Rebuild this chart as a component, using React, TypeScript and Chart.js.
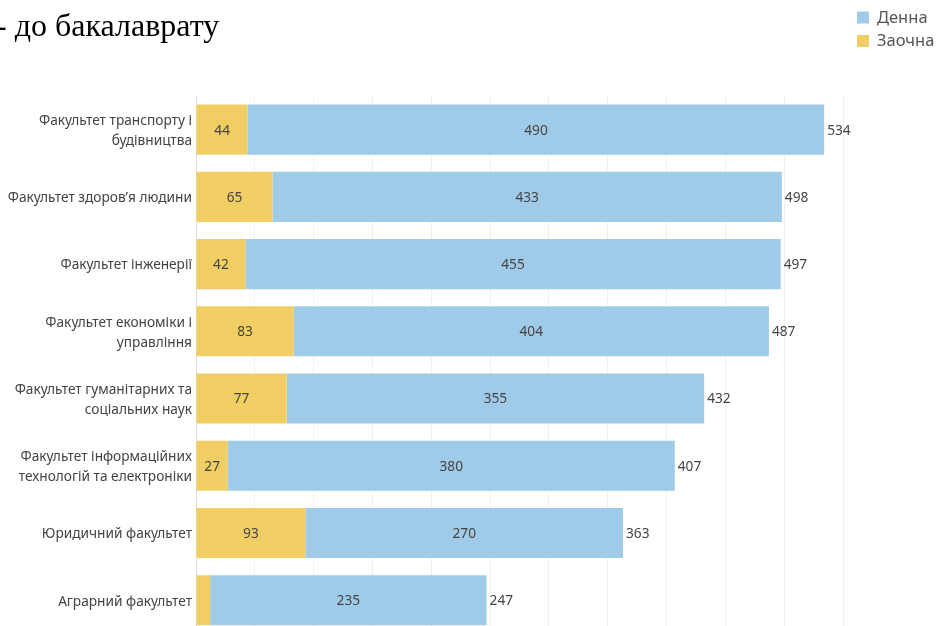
import React, { useEffect, useRef } from "react";
import { Chart, registerables } from "chart.js";

Chart.register(...registerables);

const categories: (string | string[])[] = [
  ["Факультет транспорту і", "будівництва"],
  "Факультет здоров’я людини",
  "Факультет інженерії",
  ["Факультет економіки і", "управління"],
  ["Факультет гуманітарних та", "соціальних наук"],
  ["Факультет інформаційних", "технологій та електроніки"],
  "Юридичний факультет",
  "Аграрний факультет",
];
const zaochna = [44, 65, 42, 83, 77, 27, 93, 12];
const denna = [490, 433, 455, 404, 355, 380, 270, 235];
const titleText = "- до бакалаврату";
const legendLabels = ["Денна", "Заочна"];

const BLUE = "#a0cbe8";
const YELLOW = "#f1ce63";
const FONT = "'Noto Sans', sans-serif";
const W = 937;
const H = 658;

const overlayPlugin = {
  id: "overlay",
  afterDatasetsDraw(chart: any) {
    const ctx = chart.ctx;
    ctx.save();
    ctx.font = `13.7px ${FONT}`;
    ctx.fillStyle = "#444";
    ctx.textBaseline = "middle";
    chart.data.datasets.forEach((ds: any, di: number) => {
      const meta = chart.getDatasetMeta(di);
      meta.data.forEach((bar: any, i: number) => {
        const w = Math.abs(bar.x - bar.base);
        if (w > 24) {
          ctx.textAlign = "center";
          ctx.fillText(String(ds.data[i]), (bar.x + bar.base) / 2, bar.y + 1);
        }
        if (di === chart.data.datasets.length - 1) {
          const total = chart.data.datasets.reduce((s: number, d: any) => s + d.data[i], 0);
          ctx.textAlign = "left";
          ctx.fillText(String(total), bar.x + 3, bar.y + 1);
        }
      });
    });
    ctx.restore();
  },
  afterDraw(chart: any) {
    const ctx = chart.ctx;
    ctx.save();
    ctx.font = "32px 'Liberation Serif', serif";
    ctx.fillStyle = "#000";
    ctx.textAlign = "left";
    ctx.textBaseline = "alphabetic";
    ctx.fillText(titleText, -4, 36);
    const colors = [BLUE, YELLOW];
    ctx.font = `16.5px ${FONT}`;
    ctx.textBaseline = "middle";
    legendLabels.forEach((lab, i) => {
      const y = 17.5 + i * 23.5;
      ctx.fillStyle = colors[i];
      ctx.fillRect(857, y - 6, 12, 12);
      ctx.fillStyle = "#555";
      ctx.fillText(lab, 877, y + 0.5);
    });
    ctx.restore();
  },
};

export default function App() {
  const ref = useRef<HTMLCanvasElement | null>(null);
  useEffect(() => {
    if (!ref.current) return;
    const chart = new Chart(ref.current, {
      type: "bar",
      data: {
        labels: categories,
        datasets: [
          { label: "Заочна", data: zaochna, backgroundColor: YELLOW, barPercentage: 0.745, categoryPercentage: 1 },
          { label: "Денна", data: denna, backgroundColor: BLUE, barPercentage: 0.745, categoryPercentage: 1 },
        ],
      },
      options: {
        indexAxis: "y",
        animation: false,
        responsive: false,
        maintainAspectRatio: false,
        layout: { padding: { top: 96, right: 94, bottom: 6, left: 0 } },
        plugins: { legend: { display: false }, tooltip: { enabled: false }, title: { display: false } },
        scales: {
          x: {
            stacked: true,
            min: 0,
            max: 550,
            ticks: { display: false, stepSize: 50 },
            grid: { color: "#f0f0f0", drawTicks: false, lineWidth: 1 },
            border: { display: false },
            afterFit(scale: any) { scale.height = 0; },
          },
          y: {
            stacked: true,
            ticks: {
              color: "#444",
              padding: 4,
              labelOffset: 1.5,
              font: { family: FONT, size: 13.7, lineHeight: 1.47 },
            },
            grid: { display: false, drawTicks: false },
            border: { display: true, color: "#dddddd" },
            afterFit(scale: any) { scale.width = 196; },
          },
        },
      },
      plugins: [overlayPlugin],
    });
    return () => chart.destroy();
  }, []);
  return (
    <div style={{ position: "fixed", left: 0, top: 0, width: W, height: H, background: "#fff" }}>
      <canvas ref={ref} width={W} height={H} style={{ width: W, height: H }} />
    </div>
  );
}
